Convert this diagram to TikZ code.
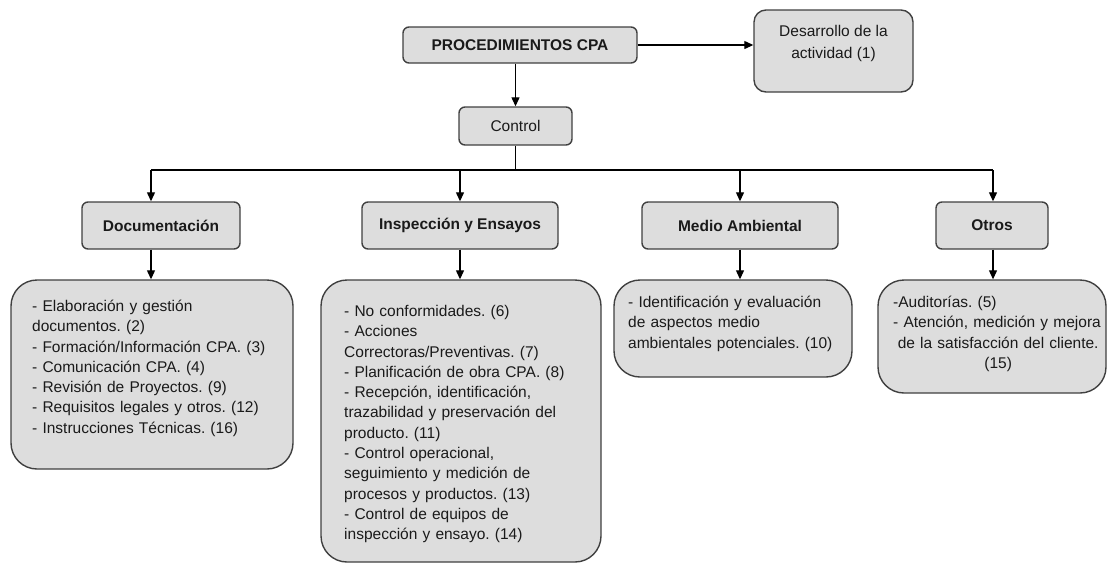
\documentclass[tikz,border=0pt]{standalone}
\usepackage{fontspec}
\setmainfont{Liberation Sans}
\usetikzlibrary{arrows.meta}
\definecolor{boxfill}{HTML}{DDDDDD}
\definecolor{boxline}{HTML}{404040}
\definecolor{inkcol}{HTML}{1A1A1A}
\frenchspacing
\begin{document}
\begin{tikzpicture}[x=1pt,y=-1pt,
  basebox/.style={draw=boxline, fill=boxfill, line width=1.4pt, inner sep=0pt, text=inkcol},
  headbox/.style={basebox, rounded corners=6pt, font=\fontsize{15.5}{19}\selectfont\bfseries},
  plainbox/.style={basebox, rounded corners=6pt, font=\fontsize{15.5}{19}\selectfont},
  notebox/.style={basebox, rounded corners=12pt},
  listbox/.style={basebox, rounded corners=26pt},
  listtext/.style={inner sep=0pt, anchor=north west, align=left, text=inkcol,
    font=\fontsize{15.5}{20.3}\selectfont},
  wire/.style={draw=black, line width=1.2pt},
  link/.style={wire, -{Triangle[length=9pt,width=8pt]}}
]
\useasboundingbox (0,0) rectangle (1107,563);

% top level
\node[headbox, minimum width=234pt, minimum height=36pt] (proc) at (520,45) {PROCEDIMIENTOS CPA};
\node[notebox, minimum width=159pt, minimum height=82pt] (des) at (833.5,51) {};
\node[inner sep=0pt, anchor=north, align=center, text=inkcol,
  font=\fontsize{15.5}{22}\selectfont] (des-t) at (833.5,21) {\strut Desarrollo de la\\actividad (1)};
\node[plainbox, minimum width=113pt, minimum height=38pt] (ctrl) at (515.5,126) {Control};

% second level
\node[headbox, minimum width=158pt, minimum height=47pt] (doc) at (161,225.5) {Documentación};
\node[headbox, minimum width=196pt, minimum height=47pt] (insp) at (460,225.5) {Inspección y Ensayos};
\node[headbox, minimum width=196pt, minimum height=47pt] (med) at (740,225.5) {Medio Ambiental};
\node[headbox, minimum width=112pt, minimum height=47pt] (otros) at (992,225.5) {Otros};

% lists of procedures
\node[listbox, minimum width=282pt, minimum height=189pt] (docl) at (152,374.5) {};
\node[listbox, minimum width=280pt, minimum height=282pt] (inspl) at (461,421) {};
\node[listbox, minimum width=238pt, minimum height=97pt] (medl) at (733,328.5) {};
\node[listbox, minimum width=228pt, minimum height=113pt] (otrl) at (992,336.5) {};

\node[listtext, text width=255pt] (docl-t) at (32,297) {\strut - Elaboración y gestión\\
documentos. (2)\\
- Formación/Información CPA. (3)\\
- Comunicación CPA. (4)\\
- Revisión de Proyectos. (9)\\
- Requisitos legales y otros. (12)\\
- Instrucciones Técnicas. (16)};

\node[listtext, text width=250pt] (inspl-t) at (344,302) {\strut - No conformidades. (6)\\
- Acciones\\
Correctoras/Preventivas. (7)\\
- Planificación de obra CPA. (8)\\
- Recepción, identificación,\\
trazabilidad y preservación del\\
producto. (11)\\
- Control operacional,\\
seguimiento y medición de\\
procesos y productos. (13)\\
- Control de equipos de\\
inspección y ensayo. (14)};

\node[listtext, text width=220pt] (medl-t) at (628,293) {\strut - Identificación y evaluación\\
de aspectos medio\\
ambientales potenciales. (10)};

\node[listtext, text width=210pt] (otrl-t) at (893,293) {\strut -Auditorías. (5)\\
- Atención, medición y mejora\\
\makebox[\linewidth]{de la satisfacción del cliente.}\\
\makebox[\linewidth]{(15)}};

% connectors
\coordinate (busL) at (151,170);
\coordinate (busR) at (993,170);
\draw[link] (proc.east) -- (des.west |- proc.east);
\draw[link] (ctrl.north |- proc.south) -- (ctrl.north);
\draw[wire] (ctrl.south) -- (ctrl.south |- busL);
\draw[wire] (busL) -- (busR);
\draw[link] (busL) -- (busL |- doc.north);
\draw[link] (insp.north |- busL) -- (insp.north);
\draw[link] (med.north |- busL) -- (med.north);
\draw[link] (busR) -- (busR |- otros.north);
\draw[link] (busL |- doc.south) -- (busL |- docl.north);
\draw[link] (insp.south) -- (insp.south |- inspl.north);
\draw[link] (med.south) -- (med.south |- medl.north);
\draw[link] (busR |- otros.south) -- (busR |- otrl.north);
\end{tikzpicture}
\end{document}
